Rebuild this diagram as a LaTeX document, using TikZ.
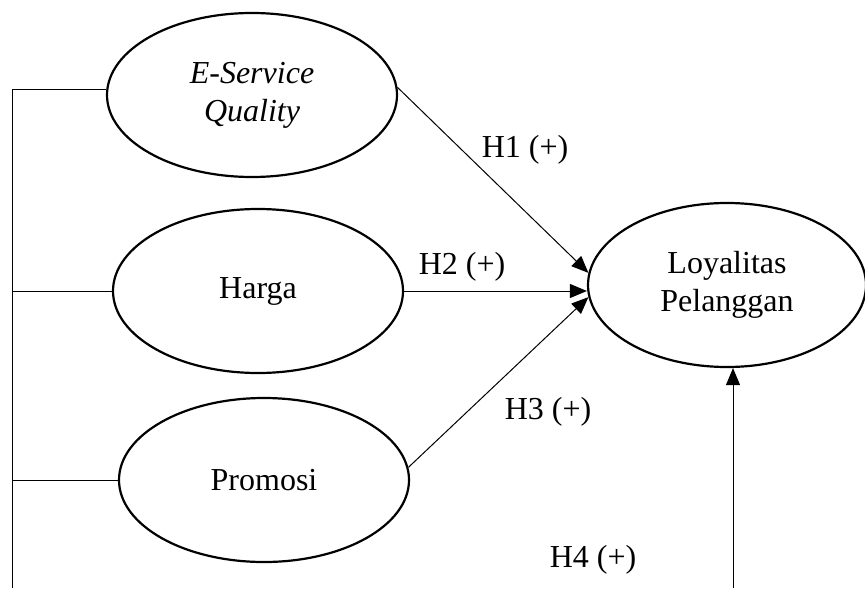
\documentclass[tikz,border=0pt]{standalone}
\usepackage{fontspec}
\setmainfont{Liberation Serif}
\usepackage{tikz}
\usetikzlibrary{shapes.geometric}
\usetikzlibrary{arrows.meta}
\def\largeur{865}
\def\hauteur{588}

\begin{document}
\begin{tikzpicture}[x=0.5pt, y=-0.5pt,
	var/.style={ellipse, draw, line width=1.1pt, inner sep=0pt, minimum width=145pt, minimum height=82pt, align=center, font=\fontsize{16}{19}\selectfont},
	lien/.style={line width=0.5pt},
	fleche/.style={line width=0.5pt, -{Triangle[length=8.5pt, width=7pt]}},
	hyp/.style={font=\fontsize{16}{19}\selectfont}]
	\useasboundingbox (0,0) rectangle (\largeur,\hauteur);
	%\draw[step=50, line width=0.1mm, black!20!white] (0,0) grid (\largeur,\hauteur);
	\node[var] (esq) at (252,95){\textit{E-Service}\\\textit{Quality}};
	\node[var] (har) at (258,291){Harga};
	\node[var] (pro) at (264,480){Promosi};
	\node[var, minimum width=139pt] (loy) at (727,285){Loyalitas\\Pelanggan};
	\coordinate (gauche) at (12,\hauteur);
	\coordinate (droite) at (733,\hauteur);
	\draw[lien] (esq.178) -| (gauche);
	\draw[lien] (har.west) -- (har.west -| gauche);
	\draw[lien] (pro.west) -- (pro.west -| gauche);
	\draw[fleche] (esq.3) -- (loy.175);
	\draw[fleche] (har.east) -- (har.east -| loy.west);
	\draw[fleche] (pro.5) -- (loy.185);
	\draw[fleche] (droite) -- (droite |- loy.south);
	\node[hyp] (h1) at (525,150){H1 (+)};
	\node[hyp] (h2) at (462,267){H2 (+)};
	\node[hyp] (h3) at (548,412){H3 (+)};
	\node[hyp] (h4) at (593,560){H4 (+)};
\end{tikzpicture}
\end{document}
